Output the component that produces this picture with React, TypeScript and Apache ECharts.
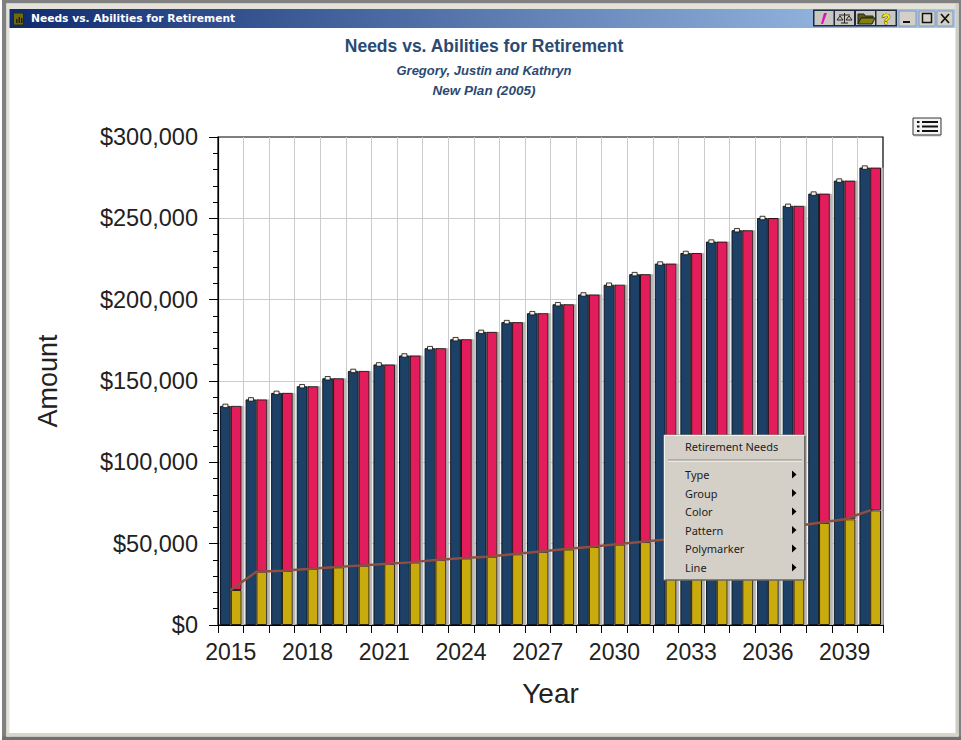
import React, { useEffect, useRef } from "react";
import * as echarts from "echarts";

const years = ["2015","2016","2017","2018","2019","2020","2021","2022","2023","2024","2025","2026","2027","2028","2029","2030","2031","2032","2033","2034","2035","2036","2037","2038","2039","2040"];
const needs = [134700,138700,142700,146800,151700,156200,160200,165700,170200,175700,180200,186200,191700,197200,203200,209200,215700,222200,228700,235700,242700,250200,257700,265200,273200,281200];
const abilities = [21500,32800,33300,34500,35500,36500,37500,38500,40000,41000,42000,43500,45000,46500,48000,49500,51000,52500,54000,55500,57000,58500,60500,62800,65000,70500];
const gap = needs.map((v, i) => v - abilities[i]);
const menuItems = ["Type","Group","Color","Pattern","Polymarker","Line"];
const menuRows = [474.5,493,511.5,530,548.5,567.5];

const AXIS_FONT = "'Liberation Sans', Arial, sans-serif";
const UI_FONT = "'Noto Sans', sans-serif";
const TITLE_COLOR = "#2b4a72";
const TEXT_COLOR = "#222222";

function box(x: number, y: number, w: number, h: number, fill: string, stroke?: string, z = 100, lineWidth = 1) {
  return { type: "rect", z, silent: true, shape: { x, y, width: w, height: h }, style: { fill, stroke: stroke ?? "none", lineWidth } };
}
function seg(x1: number, y1: number, x2: number, y2: number, stroke: string, lineWidth = 1, z = 101) {
  return { type: "line", z, silent: true, shape: { x1, y1, x2, y2 }, style: { stroke, lineWidth } };
}
function label(text: string, x: number, y: number, font: string, fill: string, align = "left", z = 102) {
  return { type: "text", z, silent: true, x, y, style: { text, font, fill, align, verticalAlign: "middle" } };
}
function poly(points: number[][], fill: string, stroke = "none", z = 102) {
  return { type: "polygon", z, silent: true, shape: { points }, style: { fill, stroke } };
}

function chrome(): any[] {
  const els: any[] = [];
  // window frame
  els.push(box(2, 0, 959, 3.5, "#808080"), box(2, 0, 4.5, 740, "#808080"), box(958.5, 0, 2.5, 740, "#808080"), box(2, 736.5, 959, 3.5, "#707070"));
  els.push(box(6.5, 3.5, 3, 733, "#e4e2d8"), box(6.5, 3.5, 952, 5.5, "#e4e2d8"), box(955.5, 3.5, 3, 733, "#d0cdc4"), box(6.5, 733, 952, 3.5, "#d8d5c9"));
  // title bar
  els.push({
    type: "rect", z: 100, silent: true, shape: { x: 9.5, y: 9, width: 946, height: 19 },
    style: { fill: new echarts.graphic.LinearGradient(0, 0, 1, 0, [{ offset: 0, color: "#0f2b70" }, { offset: 1, color: "#a6c8ee" }]) },
  });
  els.push(box(13.5, 13, 10, 12, "#6f6a12", "#2a2a08"));
  els.push(box(16, 19, 1.5, 4, "#222208"), box(18.5, 17, 1.5, 6, "#222208"), box(21, 18, 1.5, 5, "#222208"));
  els.push(label("Needs vs. Abilities for Retirement", 31, 18.5, "bold 10.7px 'DejaVu Sans', sans-serif", "#ffffff"));
  // tool buttons
  els.push(box(813, 9.5, 84, 17, "#1c2a44"));
  [814.5, 835, 856, 876.5].forEach((x) => els.push(box(x, 11, 19, 14, "#c9c7bf")));
  els.push(poly([[824,13],[827,13],[823,24],[821,24]], "#e010c0"));
  els.push(seg(844.5, 13, 844.5, 23, "#222"), seg(839, 15, 850, 15, "#222"), poly([[837,20],[843,20],[840,16]], "none", "#222"), poly([[846,20],[852,20],[849,16]], "none", "#222"), seg(841, 23, 848, 23, "#222"));
  els.push(poly([[858,14],[864,14],[865,16],[873,16],[873,18],[861,18],[858,24]], "#5c5a10", "#222"), poly([[861,18],[875,18],[872,24],[858,24]], "#82800f", "#222"));
  els.push({ type: "text", z: 102, silent: true, x: 886, y: 18.5, style: { text: "?", font: "bold 15px 'Liberation Sans', sans-serif", fill: "#f5e800", stroke: "#111", lineWidth: 0.7, align: "center", verticalAlign: "middle" } });
  // window buttons
  [[899, 17], [919, 16], [937, 16]].forEach(([x, w]) => els.push(box(x, 11, w, 15, "#d4d0c8", "#8a98b0")));
  els.push(box(903, 21, 7, 2, "#111"));
  els.push(box(922.5, 13.5, 9, 9, "none", "#111", 102, 1.5));
  els.push(seg(941, 14, 949, 23, "#111", 1.7), seg(949, 14, 941, 23, "#111", 1.7));
  // list icon
  els.push(box(913, 118, 28, 17, "#f4f4f4", "#333"), seg(914, 135.5, 941, 135.5, "#888", 1.5));
  [122, 126.5, 131].forEach((y) => {
    els.push(box(917, y - 1, 2.5, 2, "#111"), box(922, y - 1, 16, 2, "#111"));
  });
  // context menu
  els.push(box(664, 435, 141, 145, "#d4d0c8", "#8c8a84"));
  els.push(seg(664.5, 435.5, 804.5, 435.5, "#f4f2ec"), seg(664.5, 435.5, 664.5, 579.5, "#f4f2ec"));
  els.push(seg(804.8, 436, 804.8, 580, "#555", 1.2), seg(665, 580, 805, 580, "#555", 1.2));
  els.push(label("Retirement Needs", 685, 446, `11px ${UI_FONT}`, "#1c1c1c"));
  els.push(seg(668, 460, 802, 460, "#8e8c86", 1.2), seg(668, 461.3, 802, 461.3, "#f2f0ea", 1));
  menuItems.forEach((item, i) => {
    const y = menuRows[i];
    els.push(label(item, 685, y, `11px ${UI_FONT}`, "#1c1c1c"));
    els.push(poly([[792, y - 4], [796.5, y], [792, y + 4]], "#000"));
  });
  return els;
}

export default function App() {
  const ref = useRef<HTMLDivElement>(null);
  useEffect(() => {
    const chart = echarts.init(ref.current!, undefined, { renderer: "svg" });
    const barShadow = { shadowColor: "#b4b4b4", shadowOffsetX: 2.5, shadowOffsetY: 0, shadowBlur: 1 };
    chart.setOption({
      animation: false,
      backgroundColor: "#ffffff",
      title: [
        { text: "Needs vs. Abilities for Retirement", left: 479, top: 32, textAlign: "center", textStyle: { fontFamily: AXIS_FONT, fontSize: 17.5, fontWeight: "bold", color: TITLE_COLOR } },
        { text: "Gregory, Justin and Kathryn", left: 479, top: 58.5, textAlign: "center", textStyle: { fontFamily: AXIS_FONT, fontSize: 13, fontWeight: "bold", fontStyle: "italic", color: TITLE_COLOR } },
        { text: "New Plan (2005)", left: 479, top: 78, textAlign: "center", textStyle: { fontFamily: AXIS_FONT, fontSize: 13.5, fontWeight: "bold", fontStyle: "italic", color: TITLE_COLOR } },
      ],
      grid: { left: 218, top: 137, right: 78, bottom: 115, show: true, borderColor: "#000", borderWidth: 1.2, backgroundColor: "transparent", containLabel: false },
      xAxis: {
        type: "category", data: years,
        name: "Year", nameLocation: "middle", nameGap: 54, nameMoveOverlap: false,
        nameTextStyle: { fontFamily: AXIS_FONT, fontSize: 28, color: TEXT_COLOR },
        axisLine: { lineStyle: { color: "#000", width: 1.2 } },
        axisTick: { show: true, length: 8, interval: 0, alignWithLabel: false, lineStyle: { color: "#000" } },
        axisLabel: { interval: 2, fontFamily: AXIS_FONT, fontSize: 23, color: TEXT_COLOR, margin: 15, hideOverlap: false },
        splitLine: { show: true, interval: 0, showMinLine: false, showMaxLine: false, lineStyle: { color: "#cccccc", width: 1 } },
      },
      yAxis: {
        type: "value", min: 0, max: 300000, interval: 50000,
        name: "Amount", nameLocation: "middle", nameGap: 157, nameRotate: 90, nameMoveOverlap: false,
        nameTextStyle: { fontFamily: AXIS_FONT, fontSize: 27, color: TEXT_COLOR },
        axisLine: { show: true, lineStyle: { color: "#000", width: 1.2 } },
        axisTick: { show: true, length: 9, lineStyle: { color: "#000" } },
        minorTick: { show: true, splitNumber: 5, length: 5, lineStyle: { color: "#000" } },
        axisLabel: { fontFamily: AXIS_FONT, fontSize: 23.5, color: TEXT_COLOR, margin: 20, formatter: (v: number) => "$" + v.toLocaleString("en-US") },
        splitLine: { show: true, showMinLine: false, showMaxLine: false, lineStyle: { color: "#cccccc", width: 1 } },
      },
      series: [
        { name: "Retirement Needs", type: "bar", stack: "needs", data: needs, barWidth: 10.8, barGap: "0%", itemStyle: { color: "#1f3f66", borderColor: "#101820", borderWidth: 1, ...barShadow } },
        { name: "Abilities", type: "bar", stack: "abilities", data: abilities, barWidth: 10.8, itemStyle: { color: "#c9ab0d", borderColor: "#2a2410", borderWidth: 1, ...barShadow } },
        { name: "Shortfall", type: "bar", stack: "abilities", data: gap, barWidth: 10.8, itemStyle: { color: "#e31f5b", borderColor: "#301018", borderWidth: 1, ...barShadow } },
        { name: "Abilities line", type: "line", data: abilities, z: 5, symbol: "none", lineStyle: { color: "#8e4f42", width: 2.5 } },
        { name: "Needs marker", type: "line", data: needs, z: 6, showSymbol: true, symbol: "rect", symbolSize: [5, 3.5], symbolOffset: [-5.4, 0], lineStyle: { opacity: 0, width: 0 }, itemStyle: { color: "#f4efe0", borderColor: "#111", borderWidth: 0.8 } },
      ],
      graphic: { elements: chrome() },
    });
    return () => chart.dispose();
  }, []);
  return <div ref={ref} style={{ position: "absolute", left: 0, top: 0, width: 961, height: 740 }} />;
}
